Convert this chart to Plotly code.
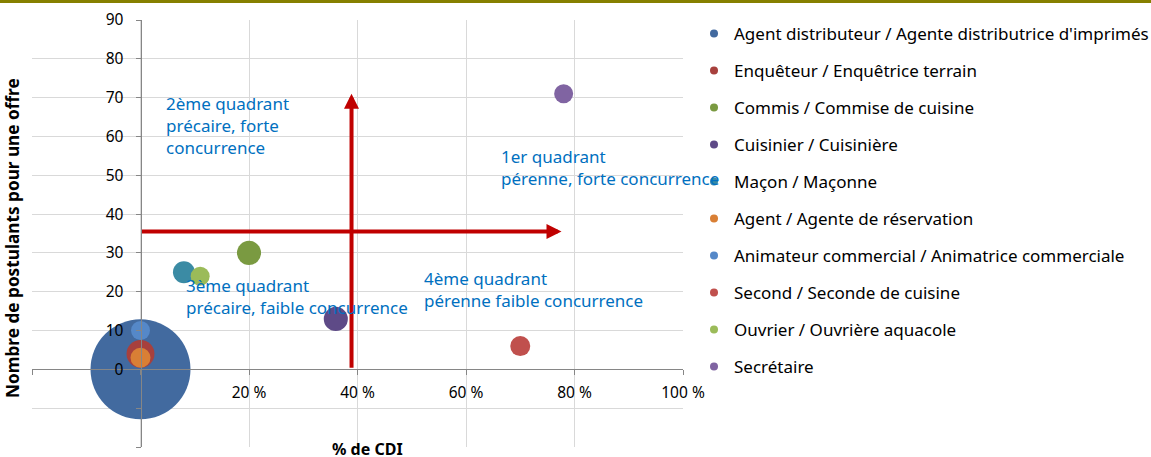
import plotly.graph_objects as go

# ---- data ----
metiers = [
    "Agent distributeur / Agente distributrice d'imprimés",
    "Enquêteur / Enquêtrice terrain",
    "Commis / Commise de cuisine",
    "Cuisinier / Cuisinière",
    "Maçon / Maçonne",
    "Agent / Agente de réservation",
    "Animateur commercial / Animatrice commerciale",
    "Second / Seconde de cuisine",
    "Ouvrier / Ouvrière aquacole",
    "Secrétaire",
]
pct_cdi = [0, 0, 20, 36, 8, 0, 0, 70, 11, 78]
postulants = [0, 4, 30, 13, 25, 3, 10, 6, 24, 71]
offres = [1000, 78, 58, 58, 48, 40, 36, 40, 36, 36]
couleurs = ["#426a9f", "#a7403d", "#7a9a41", "#5e4a87", "#3b8ba4",
            "#d97f35", "#5588c8", "#c0504d", "#9bbb59", "#8064a2"]

x_ticks = [-20, 0, 20, 40, 60, 80, 100]
x_tick_text = ["", "", "20 %", "40 %", "60 %", "80 %", "100 %"]
y_ticks = [-20, -10, 0, 10, 20, 30, 40, 50, 60, 70, 80, 90]
y_tick_text = ["", "", "0", "10", "20", "30", "40", "50", "60", "70", "80", "90"]

seuil_cdi = 38.9
seuil_postulants = 35.5

FONT = "Noto Sans"

fig = go.Figure()
for i, m in enumerate(metiers):
    fig.add_trace(go.Scatter(
        x=[pct_cdi[i]], y=[postulants[i]], mode="markers", name=m,
        marker=dict(size=[offres[i]], sizemode="area", sizeref=0.2,
                    color=couleurs[i], line=dict(width=0), opacity=1),
        showlegend=False, legendgroup=m, hovertemplate=m + "<br>%{x} %, %{y}<extra></extra>",
    ))
for i, m in enumerate(metiers):
    fig.add_trace(go.Scatter(
        x=[None], y=[None], mode="markers", name=m, legendgroup=m,
        marker=dict(size=8, color=couleurs[i]), showlegend=True,
    ))

axis_common = dict(showgrid=True, gridcolor="#d9d9d9", gridwidth=1,
                   zeroline=False, showline=True, linecolor="#868686", linewidth=1,
                   ticks="outside", ticklen=5, tickcolor="#868686", tickwidth=1,
                   tickfont=dict(family=FONT, size=15.5, color="#000000"),
                   anchor="free", layer="above traces")

fig.update_layout(
    width=1151, height=457,
    margin=dict(l=32, r=468, t=20, b=10, autoexpand=False),
    paper_bgcolor="white", plot_bgcolor="white",
    xaxis=dict(range=[-20, 100], tickmode="array", tickvals=x_ticks, ticktext=x_tick_text,
               position=20 / 110, ticklabelstandoff=4, **axis_common),
    yaxis=dict(range=[-20, 90], tickmode="array", tickvals=y_ticks, ticktext=y_tick_text,
               position=20 / 120, ticklabelstandoff=9, **axis_common),
    legend=dict(x=1.0169, xanchor="left", y=0.5773, yanchor="middle",
                traceorder="grouped", tracegroupgap=11.9,
                font=dict(family=FONT, size=17, color="#000000"),
                itemwidth=30, bgcolor="rgba(0,0,0,0)"),
    showlegend=True,
)

# olive top bar
fig.add_shape(type="rect", xref="paper", yref="paper", x0=-0.1, x1=1.8,
              ysizemode="pixel", yanchor=1, y0=17, y1=21,
              fillcolor="#868000", line=dict(width=0), layer="above")

# arrows
arrow = dict(showarrow=True, arrowhead=2, arrowsize=0.75, arrowwidth=4,
             arrowcolor="#c00000", text="", xref="x", yref="y", axref="x", ayref="y",
             standoff=0, startstandoff=0)
fig.add_annotation(x=77.6, y=seuil_postulants, ax=0, ay=seuil_postulants, **arrow)
fig.add_annotation(x=seuil_cdi, y=71, ax=seuil_cdi, ay=0, **arrow)

# quadrant labels
qfont = dict(family=FONT, size=17, color="#0070c0")
quadrants = [
    ("2ème quadrant<br>précaire, forte<br>concurrence", 4.4, 62.7),
    ("1er quadrant<br>pérenne, forte concurrence", 66.0, 52.1),
    ("3ème quadrant<br>précaire, faible concurrence", 8.1, 18.8),
    ("4ème quadrant<br>pérenne faible concurrence", 51.8, 20.6),
]
for t, xx, yy in quadrants:
    fig.add_annotation(text=t, x=xx, y=yy, xref="x", yref="y", showarrow=False,
                       xanchor="left", yanchor="middle", align="left", font=qfont)

# axis titles
fig.add_annotation(text="<b>Nombre de postulants pour une offre</b>", textangle=-90,
                   xref="paper", yref="paper", x=-0.03, y=0.4906, showarrow=False,
                   xanchor="center", yanchor="middle",
                   font=dict(family=FONT, size=17.2, color="#000000"))
fig.add_annotation(text="<b>% de CDI</b>", xref="paper", yref="paper", x=0.5155, y=0,
                   yshift=11, showarrow=False, xanchor="center", yanchor="top",
                   font=dict(family=FONT, size=16, color="#000000"))

fig.write_html("out.html", config={"displayModeBar": False},
               post_script="document.body.style.margin='0px';")
